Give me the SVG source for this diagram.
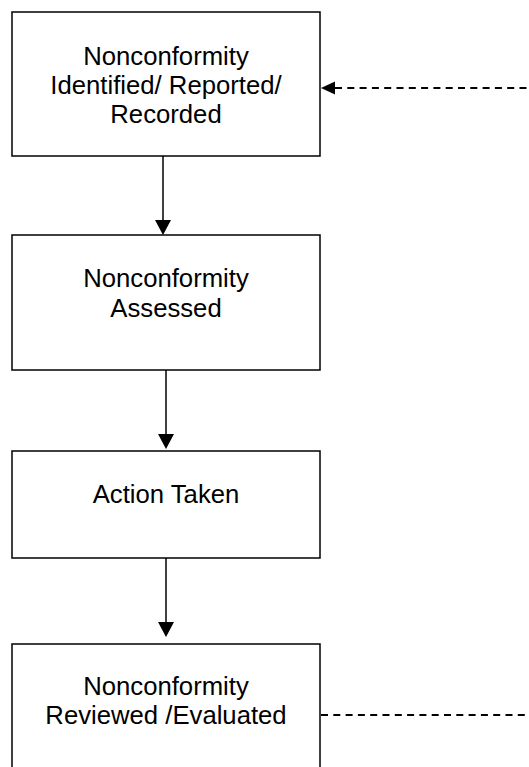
<svg xmlns="http://www.w3.org/2000/svg" width="529" height="767" viewBox="0 0 529 767">
<style>
.box{fill:#fff;stroke:#000;stroke-width:1.5}
.t{font-family:"Liberation Sans",Arial,sans-serif;font-size:25.7px;fill:#000;text-anchor:middle}
.ln{stroke:#000;stroke-width:1.5;fill:none}
.dash{stroke:#000;stroke-width:1.8;fill:none;stroke-dasharray:7 5.3}
.head{fill:#000}
</style>
<rect width="529" height="767" fill="#fff"/>
<g id="n1">
<rect class="box" x="12" y="12" width="308" height="144"/>
<text class="t" x="166" y="65">Nonconformity</text>
<text class="t" x="166" y="94">Identified/ Reported/</text>
<text class="t" x="166" y="123">Recorded</text>
</g>
<g id="n2">
<rect class="box" x="12" y="235" width="308" height="135"/>
<text class="t" x="166" y="287">Nonconformity</text>
<text class="t" x="166" y="317">Assessed</text>
</g>
<g id="n3">
<rect class="box" x="12" y="451" width="308" height="107"/>
<text class="t" x="166" y="503">Action Taken</text>
</g>
<g id="n4">
<rect class="box" x="12" y="644" width="308" height="130"/>
<text class="t" x="166" y="695">Nonconformity</text>
<text class="t" x="166" y="724">Reviewed /Evaluated</text>
</g>
<g id="connectors">
<line class="ln" x1="163" y1="156" x2="163" y2="221"/>
<polygon class="head" points="155,220 171,220 163,235"/>
<line class="ln" x1="166" y1="370" x2="166" y2="435"/>
<polygon class="head" points="158,434 174,434 166,449"/>
<line class="ln" x1="166" y1="558" x2="166" y2="623"/>
<polygon class="head" points="158,622 174,622 166,637"/>
<line class="dash" x1="335" y1="88" x2="529" y2="88"/>
<polygon class="head" points="321,88 335,81.5 335,94.5"/>
<line class="dash" x1="321" y1="715" x2="529" y2="715"/>
</g>
</svg>
